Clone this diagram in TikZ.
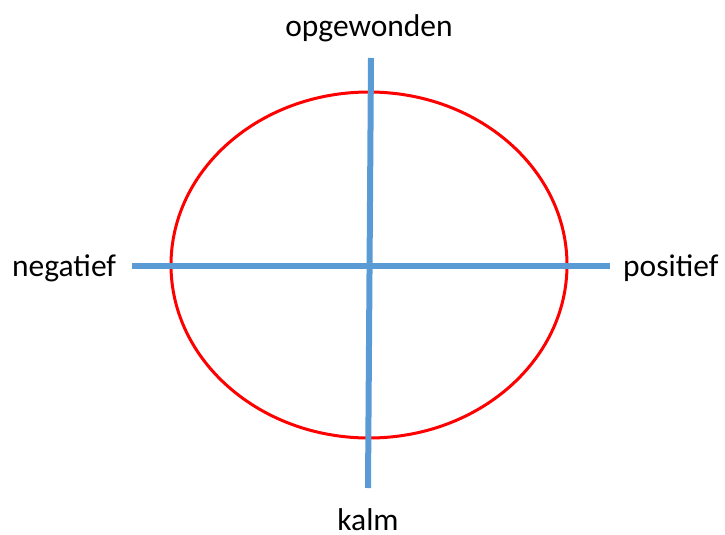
\documentclass[tikz,border=0pt]{standalone}
\usepackage{fontspec}
\setmainfont{Carlito}
\definecolor{axisblue}{HTML}{5B9BD5}
\definecolor{ringred}{HTML}{FF0000}
\begin{document}
\begin{tikzpicture}[x=1pt,y=-1pt,
  axis/.style={draw=axisblue,line width=6pt},
  ring/.style={draw=ringred,line width=3pt},
  lbl/.style={inner sep=0pt,font=\fontsize{31.5}{36}\selectfont}]
\useasboundingbox (0,0) rectangle (725,535);
\draw[ring] (369,265) ellipse [x radius=198, y radius=173];
\coordinate (L) at (132,266);
\coordinate (R) at (610,266);
\coordinate (T) at (371,58);
\coordinate (B) at (368,488);
\draw[axis] (L) -- (R);
\draw[axis] (T) -- (B);
\node[lbl,anchor=base] (top) at (369,37) {opgewonden};
\node[lbl,anchor=base] (bot) at (368,530) {kalm};
\node[lbl,anchor=base west] (neg) at (12,276) {negatief};
\node[lbl,anchor=base west] (pos) at (623,276) {positief};
\end{tikzpicture}
\end{document}
